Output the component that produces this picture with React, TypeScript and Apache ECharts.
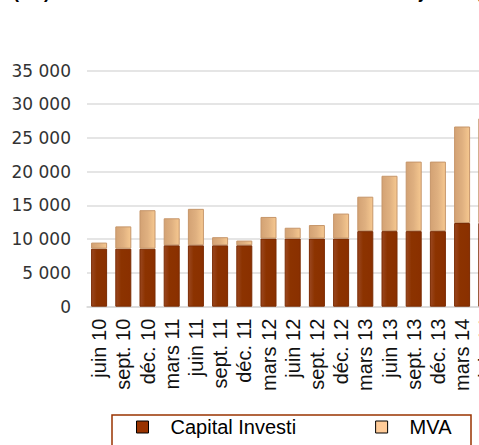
import { useEffect, useRef } from 'react';
import * as echarts from 'echarts';

const periods = [
  'juin 10', 'sept. 10', 'déc. 10', 'mars 11', 'juin 11', 'sept. 11', 'déc. 11', 'mars 12',
  'juin 12', 'sept. 12', 'déc. 12', 'mars 13', 'juin 13', 'sept. 13', 'déc. 13', 'mars 14', 'juin 14',
];
const capitalInvesti = [
  8600, 8600, 8600, 9100, 9100, 9100, 9100, 10100,
  10100, 10100, 10100, 11200, 11200, 11200, 11200, 12400, 12400,
];
const mva = [
  900, 3300, 5700, 4000, 5400, 1200, 700, 3200,
  1600, 2000, 3700, 5100, 8200, 10300, 10300, 14300, 15500,
];
const yTicks = [0, 5000, 10000, 15000, 20000, 25000, 30000, 35000];

const fmt = (v: number) => (v >= 1000 ? `${Math.floor(v / 1000)} ${String(v % 1000).padStart(3, '0')}` : String(v));

export default function App() {
  const chartRef = useRef<HTMLDivElement>(null);

  useEffect(() => {
    if (!chartRef.current) return;
    const chart = echarts.init(chartRef.current, undefined, { renderer: 'svg' });

    const option: echarts.EChartsOption = {
      animation: false,
      backgroundColor: '#fff',
      title: {
        text: '(M€) Évolution de la MVA et du CI sur la durée ajustée (en M€)',
        left: 13,
        top: -17,
        padding: 0,
        textStyle: { fontFamily: 'Liberation Sans', fontWeight: 'bold', fontSize: 18, color: '#000' },
      },
      legend: {
        data: [
          { name: 'Capital Investi', itemStyle: { color: '#993300', borderColor: '#000', borderWidth: 1 } },
          { name: 'MVA', itemStyle: { color: '#ffcc99', borderColor: '#000', borderWidth: 1 } },
        ],
        icon: 'rect',
        left: 136,
        top: 417,
        padding: 0,
        itemWidth: 12,
        itemHeight: 12,
        itemGap: 79,
        textStyle: { fontFamily: 'Liberation Sans', fontSize: 20, color: '#000', padding: [0, 0, 0, 17] },
      },
      graphic: [
        {
          type: 'rect',
          shape: { x: 112, y: 415, width: 359, height: 60 },
          style: { fill: 'none', stroke: '#993300', lineWidth: 1.5 },
          silent: true,
        },
      ],
      grid: { left: 87, right: 21.6, top: 70.5, bottom: 138.3 },
      xAxis: {
        type: 'category',
        data: periods,
        axisLine: { lineStyle: { color: '#d9d9d9', width: 1.5 } },
        axisTick: { show: false },
        axisLabel: {
          rotate: 90,
          margin: 12,
          interval: 0,
          fontFamily: 'Liberation Sans',
          fontSize: 20,
          color: '#111',
        },
      },
      yAxis: {
        type: 'value',
        min: yTicks[0],
        max: yTicks[yTicks.length - 1],
        interval: 5000,
        axisLine: { show: false },
        axisTick: { show: false },
        splitLine: { lineStyle: { color: '#dcdcdc', width: 1.5 } },
        axisLabel: {
          margin: 16,
          fontFamily: 'DejaVu Sans',
          fontSize: 17,
          color: '#333',
          formatter: (v: number) => fmt(v),
        },
      },
      series: [
        {
          name: 'Capital Investi',
          type: 'bar',
          stack: 'total',
          barWidth: 16,
          data: capitalInvesti,
          itemStyle: {
            color: new echarts.graphic.LinearGradient(0, 0, 1, 0, [
              { offset: 0, color: '#9a4720' },
              { offset: 0.35, color: '#8c3300' },
              { offset: 1, color: '#8a3000' },
            ]),
            borderColor: '#7a2a00',
            borderWidth: 1,
          },
        },
        {
          name: 'MVA',
          type: 'bar',
          stack: 'total',
          barWidth: 16,
          data: mva,
          itemStyle: {
            color: new echarts.graphic.LinearGradient(0, 0, 1, 0, [
              { offset: 0, color: '#d3a274' },
              { offset: 0.5, color: '#dfb080' },
              { offset: 1, color: '#f6c890' },
            ]),
            borderColor: '#c6966a',
            borderWidth: 1,
          },
        },
      ],
    };

    chart.setOption(option);
    return () => chart.dispose();
  }, []);

  return (
    <div style={{ position: 'fixed', left: 0, top: 0, width: 479, height: 445, overflow: 'hidden', background: '#fff' }}>
      <div ref={chartRef} style={{ width: 520, height: 445 }} />
    </div>
  );
}
